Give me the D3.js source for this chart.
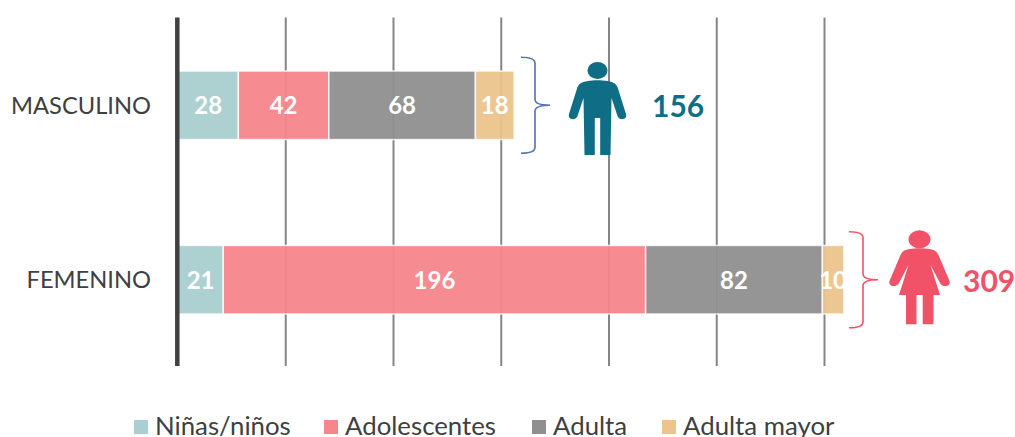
<!DOCTYPE html>
<html><head><meta charset="utf-8">
<script src="https://cdn.jsdelivr.net/npm/d3@7"></script>
<style>html,body{margin:0;padding:0;background:#fff}svg{display:block}text{font-family:Lato,"Open Sans",sans-serif}</style>
</head><body><svg id="c" width="1015" height="437"></svg>
<script>
const categories = ["MASCULINO","FEMENINO"];
const seriesNames = ["Niñas/niños","Adolescentes","Adulta","Adulta mayor"];
const seriesColors = ["#a9cfcf","#f5868c","#8e8f8e","#ecc48c"];
const ninas = [28,21];
const adolescentes = [42,196];
const adulta = [68,82];
const adultaMayor = [18,10];
const totals = [156,309];
const totalColors = ["#0f6e85","#f25268"];
const bracketColors = ["#4f74b8","#f25268"];
const tickValues = [0,50,100,150,200,250,300];
const series = [ninas,adolescentes,adulta,adultaMayor];

const svg = d3.select("#c");
const x = d3.scaleLinear().domain([0,300]).range([178,824.5]);
const y = d3.scaleBand().domain(categories).range([18,367]).paddingInner(0.607).paddingOuter(0.304);
const top_=17.5, bottom_=366;

svg.selectAll(".grid").data(tickValues.slice(1)).join("line")
 .attr("x1",d=>x(d)).attr("x2",d=>x(d)).attr("y1",top_).attr("y2",bottom_)
 .attr("stroke","#858585").attr("stroke-width",2);

categories.forEach((c,i)=>{
  let acc=0;
  series.forEach((s,j)=>{
    const v=s[i], x0=x(acc), x1=x(acc+v);
    acc+=v;
    svg.append("rect").attr("x",x0).attr("y",y(c)).attr("width",x1-x0).attr("height",y.bandwidth())
      .attr("fill",seriesColors[j]).attr("fill-opacity",0.95).attr("stroke","#fff").attr("stroke-opacity",.8).attr("stroke-width",1.5);
    svg.append("text").attr("x",(x0+x1)/2).attr("y",y(c)+y.bandwidth()/2+9).attr("text-anchor","middle")
      .attr("fill","#fff").attr("font-weight",700).attr("font-size",24).text(v);
  });
  svg.append("text").attr("x",151).attr("y",y(c)+y.bandwidth()/2+8.5).attr("text-anchor","end")
    .attr("fill","#404040").attr("font-size",23.7).text(c);
});

svg.append("line").attr("x1",x(0)-.7).attr("x2",x(0)-.7).attr("y1",top_).attr("y2",bottom_)
  .attr("stroke","#404040").attr("stroke-width",4.5);

const bracketLeft=[521,849];
categories.forEach((c,i)=>{
  const cy=y(c)+y.bandwidth()/2;
  const h=48, l=bracketLeft[i], m=l+14, r=l+29;
  svg.append("path").attr("fill","none").attr("stroke",bracketColors[i]).attr("stroke-width",1.6)
    .attr("d",`M${l},${cy-h}Q${m},${cy-h} ${m},${cy-h+6}L${m},${cy-6}Q${m},${cy} ${r},${cy}Q${m},${cy} ${m},${cy+6}L${m},${cy+h-6}Q${m},${cy+h} ${l},${cy+h}`);
});

const man="M-10,-27 C-4,-28 4,-28 10,-27 C15,-26 18,-25 20,-21 L28.5,6 C30,12 22,13 20,8 L14,-10 L13,47 L2.7,47 L2.7,10 L-2.7,10 L-2.7,47 L-13,47 L-14,-10 L-20,8 C-22,13 -30,12 -28.5,6 L-20,-21 C-18,-25 -15,-26 -10,-27Z";
const woman="M-10,-31 C-4,-32 4,-32 10,-31 C15,-30 17,-29 19,-25 L30,1 C32,6 23,9 20,2 L11,-15 L20.5,15 L14,15 L14,44.3 L3.2,44.3 L3.2,15 L-3,15 L-3,44.3 L-13.5,44.3 L-13.5,15 L-20.5,15 L-11,-15 L-20,2 C-23,9 -32,6 -30,1 L-19,-25 C-17,-29 -15,-30 -10,-31Z";
const fig=[{cx:597.5,cy:108,p:man,hy:70.5,rx:10,ry:8.5},{cx:919.5,cy:280,p:woman,hy:239.3,rx:11,ry:9}];
fig.forEach((f,i)=>{
  svg.append("path").attr("d",f.p).attr("transform",`translate(${f.cx},${f.cy})`).attr("fill",totalColors[i]);
  svg.append("ellipse").attr("cx",f.cx).attr("cy",f.hy).attr("rx",f.rx).attr("ry",f.ry).attr("fill",totalColors[i]);
});
const totalX=[652,963];
totals.forEach((t,i)=>{
  svg.append("text").attr("x",totalX[i]).attr("y",y(categories[i])+y.bandwidth()/2+12).attr("fill",totalColors[i])
    .attr("font-weight",700).attr("font-size",30).text(t);
});

const legX=[134,324,532,662];
seriesNames.forEach((n,j)=>{
  svg.append("rect").attr("x",legX[j]).attr("y",420).attr("width",14).attr("height",14).attr("fill",seriesColors[j]);
  svg.append("text").attr("x",legX[j]+21).attr("y",435).attr("fill","#404040").attr("font-size",25.8).text(n);
});
</script></body></html>
